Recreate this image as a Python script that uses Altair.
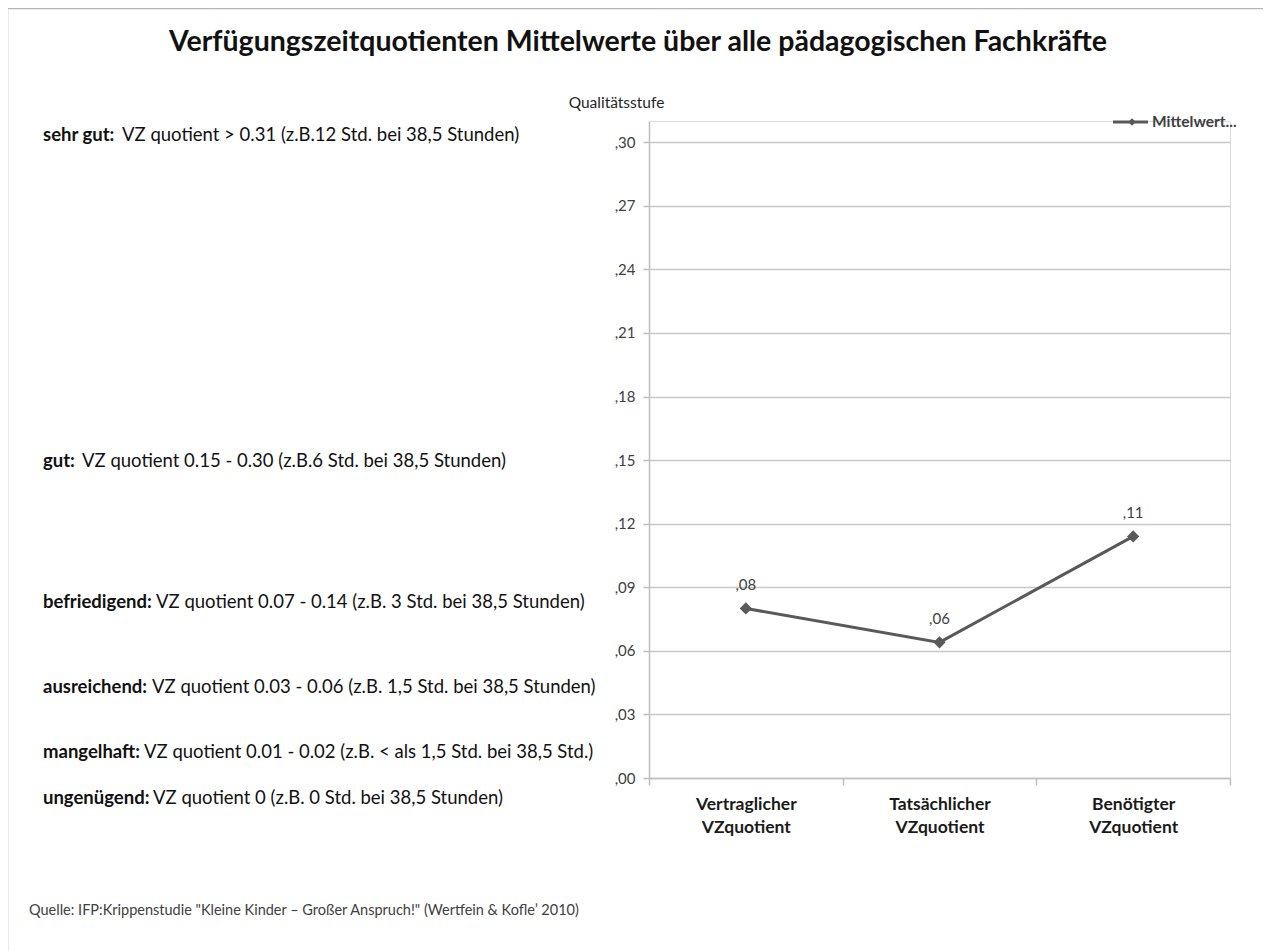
import altair as alt
import pandas as pd

# ---------------- data ----------------
categories = ["Vertraglicher VZquotient", "Tatsächlicher VZquotient", "Benötigter VZquotient"]
values = [0.080, 0.064, 0.114]
series_name = "Mittelwert..."

y_ticks = [0.00, 0.03, 0.06, 0.09, 0.12, 0.15, 0.18, 0.21, 0.24, 0.27, 0.30]

title_text = "Verfügungszeitquotienten Mittelwerte über alle pädagogischen Fachkräfte"
y_title = "Qualitätsstufe"
source_text = 'Quelle: IFP:Krippenstudie "Kleine Kinder – Großer Anspruch!"  (Wertfein & Kofle\u2019 2010)'

level_bold = ["sehr gut:", "gut:", "befriedigend:", "ausreichend:", "mangelhaft:", "ungenügend:"]
level_text = [
    "VZ quotient > 0.31 (z.B.12 Std. bei 38,5 Stunden)",
    "VZ quotient  0.15 - 0.30 (z.B.6 Std. bei 38,5 Stunden)",
    "VZ quotient 0.07 -  0.14 (z.B. 3 Std. bei 38,5 Stunden)",
    "VZ quotient 0.03 -  0.06 (z.B. 1,5 Std. bei 38,5 Stunden)",
    "VZ quotient 0.01 -  0.02 (z.B. < als 1,5 Std. bei 38,5 Std.)",
    "VZ quotient 0 (z.B. 0 Std. bei 38,5 Stunden)",
]

# ---------------- layout (pixels relative to the plot origin) ----------------
W, H = 581, 657
FONT = "Lato"
level_y = [14, 340, 481, 566, 631, 677]
level_rest_x = [-527, -567, -493, -497, -505, -496]
LABEL_X = -606
LABEL_SIZE = 18.5

df = pd.DataFrame({"cat": categories, "val": values, "series": series_name})

x_enc = alt.X(
    "cat:N",
    sort=categories,
    scale=alt.Scale(type="band", paddingInner=0, paddingOuter=0),
    axis=alt.Axis(
        title=None,
        labelExpr="split(datum.label, ' ')",
        labelFont=FONT,
        labelFontWeight="bold",
        labelFontSize=17.5,
        labelColor="#1a1a1a",
        labelLineHeight=23,
        labelPadding=10,
        labelAngle=0,
        tickBand="extent",
        tickSize=7,
        tickColor="#bfbfbf",
        tickWidth=1.5,
        domainColor="#bfbfbf",
        domainWidth=1.5,
        grid=False,
    ),
)
y_enc = alt.Y(
    "val:Q",
    scale=alt.Scale(domain=[0, 0.31], nice=False, zero=True),
    axis=alt.Axis(
        values=y_ticks,
        labelExpr="replace(format(datum.value, '.2f'), '0.', ',')",
        labelFont=FONT,
        labelFontSize=15,
        labelColor="#404040",
        labelPadding=8,
        tickSize=6,
        tickColor="#bfbfbf",
        tickWidth=1.5,
        domainColor="#bfbfbf",
        domainWidth=1.5,
        gridColor="#c8c8c8",
        gridWidth=1.6,
        title=y_title,
        titleAngle=0,
        titleAlign="center",
        titleBaseline="middle",
        titleX=-33,
        titleY=-19,
        titleFont=FONT,
        titleFontSize=15.5,
        titleFontWeight="normal",
        titleColor="#262626",
    ),
)

base = alt.Chart(df)
line = base.mark_line(color="#595959", strokeWidth=3).encode(x=x_enc, y=y_enc)
pts = base.mark_point(shape="diamond", filled=True, size=150, color="#595959", opacity=1).encode(
    x=alt.X("cat:N", sort=categories), y="val:Q"
)
lbls = base.transform_calculate(
    lab="replace(format(datum.val, '.2f'), '0.', ',')"
).mark_text(dy=-23, font=FONT, fontSize=15, color="#404040").encode(
    x=alt.X("cat:N", sort=categories),
    y="val:Q",
    text="lab:N",
)

layers = [line, pts, lbls]

one = alt.Chart(pd.DataFrame({"k": [0]}))

# frame
layers.append(one.mark_rule(color="#b5b5b5", strokeWidth=2.5).encode(
    x=alt.value(-642), x2=alt.value(700), y=alt.value(-113)))
layers.append(one.mark_rule(color="#b5b5b5", strokeWidth=2.5).encode(
    x=alt.value(-642), y=alt.value(-113), y2=alt.value(840)))

# title
layers.append(one.mark_text(text=title_text, font=FONT, fontSize=28.5, fontWeight="bold",
                            color="#111111", align="center", baseline="middle").encode(
    x=alt.value(-11), y=alt.value(-79)))

# legend
layers.append(one.mark_rule(color="#595959", strokeWidth=3).encode(
    x=alt.value(464), x2=alt.value(499), y=alt.value(1)))
layers.append(one.mark_point(shape="diamond", filled=True, size=60, color="#595959", opacity=1).encode(
    x=alt.value(483), y=alt.value(1)))
layers.append(one.mark_text(text=series_name, font=FONT, fontSize=15.5, fontWeight="bold",
                            color="#404040", align="left", baseline="middle").encode(
    x=alt.value(503), y=alt.value(1)))

# level descriptions
for b, t, yy, rx in zip(level_bold, level_text, level_y, level_rest_x):
    layers.append(one.mark_text(text=b, font=FONT, fontSize=LABEL_SIZE, fontWeight="bold",
                                color="#111111", align="left", baseline="middle").encode(
        x=alt.value(LABEL_X), y=alt.value(yy)))
    layers.append(one.mark_text(text=t, font=FONT, fontSize=LABEL_SIZE, fontWeight="normal",
                                color="#111111", align="left", baseline="middle").encode(
        x=alt.value(rx), y=alt.value(yy)))

# source
layers.append(one.mark_text(text=source_text, font=FONT, fontSize=14.5, color="#404040",
                            align="left", baseline="middle").encode(
    x=alt.value(-620), y=alt.value(790)))

chart = alt.layer(*layers).properties(
    width=W,
    height=H,
    autosize=alt.AutoSizeParams(type="none"),
    padding={"left": 641, "top": 113, "right": 33, "bottom": 200},
).configure_view(stroke=None).configure(background="white")

chart.save("out.html", embed_options={"renderer": "svg", "actions": False})
